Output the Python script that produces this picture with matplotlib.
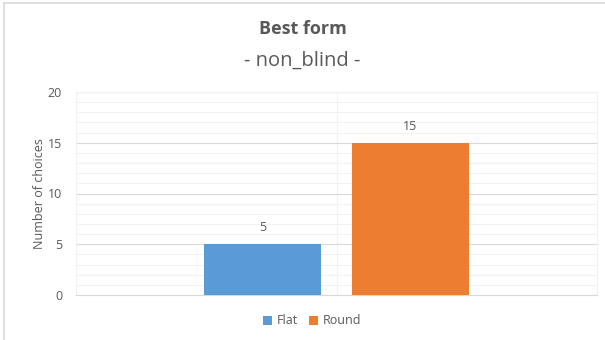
import matplotlib
matplotlib.use("Agg")
import matplotlib.pyplot as plt
from matplotlib.lines import Line2D
from matplotlib.patches import Patch

plt.rcParams["font.family"] = ["Open Sans", "DejaVu Sans"]

SERIES = ["Flat", "Round"]
VALUES = [5, 15]
COLORS = ["#5b9bd5", "#ed7d31"]
TITLE = "Best form"
SUBTITLE = "- non_blind -"
YLABEL = "Number of choices"
YTICKS = [0, 5, 10, 15, 20]

TEXT = "#595959"
W, H = 605, 340

fig = plt.figure(figsize=(W / 100, H / 100), dpi=100)
ax = fig.add_axes([76 / W, 1 - 295 / H, 521 / W, 203 / H])

width = 0.2246
gap = 0.0595
offsets = [-(width + gap) / 2, (width + gap) / 2]
for name, val, col, off in zip(SERIES, VALUES, COLORS, offsets):
    ax.bar(0.5 + off, val, width=width, color=col, zorder=3, label=name)
    ax.text(0.5 + off, val + 1.0, str(val), ha="center", va="bottom",
            fontsize=9, color=TEXT, zorder=4)

ax.set_xlim(0, 1)
ax.set_ylim(0, 20)
ax.set_xticks([])
ax.set_yticks(YTICKS)
ax.set_yticks(range(0, 21), minor=True)
ax.tick_params(axis="y", which="both", length=0, labelsize=9,
               labelcolor=TEXT, pad=10)
ax.grid(axis="y", which="minor", color="#f2f2f2", linewidth=0.8, zorder=0)
ax.grid(axis="y", which="major", color="#d9d9d9", linewidth=0.8, zorder=1)
ax.axvline(0.5, color="#f2f2f2", linewidth=0.8, zorder=0)
for s in ["top", "left", "right"]:
    ax.spines[s].set_color("#f2f2f2")
    ax.spines[s].set_linewidth(0.8)
ax.spines["bottom"].set_color("#d9d9d9")
ax.spines["bottom"].set_linewidth(0.8)

ax.set_ylabel(YLABEL, fontsize=9, color=TEXT, labelpad=1)

fig.text(0.5, 1 - 29 / H, TITLE, ha="center", va="center",
         fontsize=13, fontweight="bold", color=TEXT)
fig.text(0.5, 1 - 61 / H, SUBTITLE, ha="center", va="center",
         fontsize=14.5, color=TEXT)

handles = [Patch(facecolor=c, label=n) for n, c in zip(SERIES, COLORS)]
fig.legend(handles=handles, loc="center", bbox_to_anchor=(312 / W, 1 - 321 / H),
           ncol=2, frameon=False, fontsize=9, labelcolor=TEXT,
           handlelength=0.7, handleheight=0.7, handletextpad=0.4,
           columnspacing=0.9)

# outer chart border (left and top only visible)
fig.add_artist(Line2D([4 / W, 4 / W], [0, 1 - 3 / H], transform=fig.transFigure,
                      color="#d9d9d9", linewidth=1.2))
fig.add_artist(Line2D([4 / W, 1], [1 - 3 / H, 1 - 3 / H], transform=fig.transFigure,
                      color="#d9d9d9", linewidth=1.2))

fig.savefig("out.png", dpi=100)
